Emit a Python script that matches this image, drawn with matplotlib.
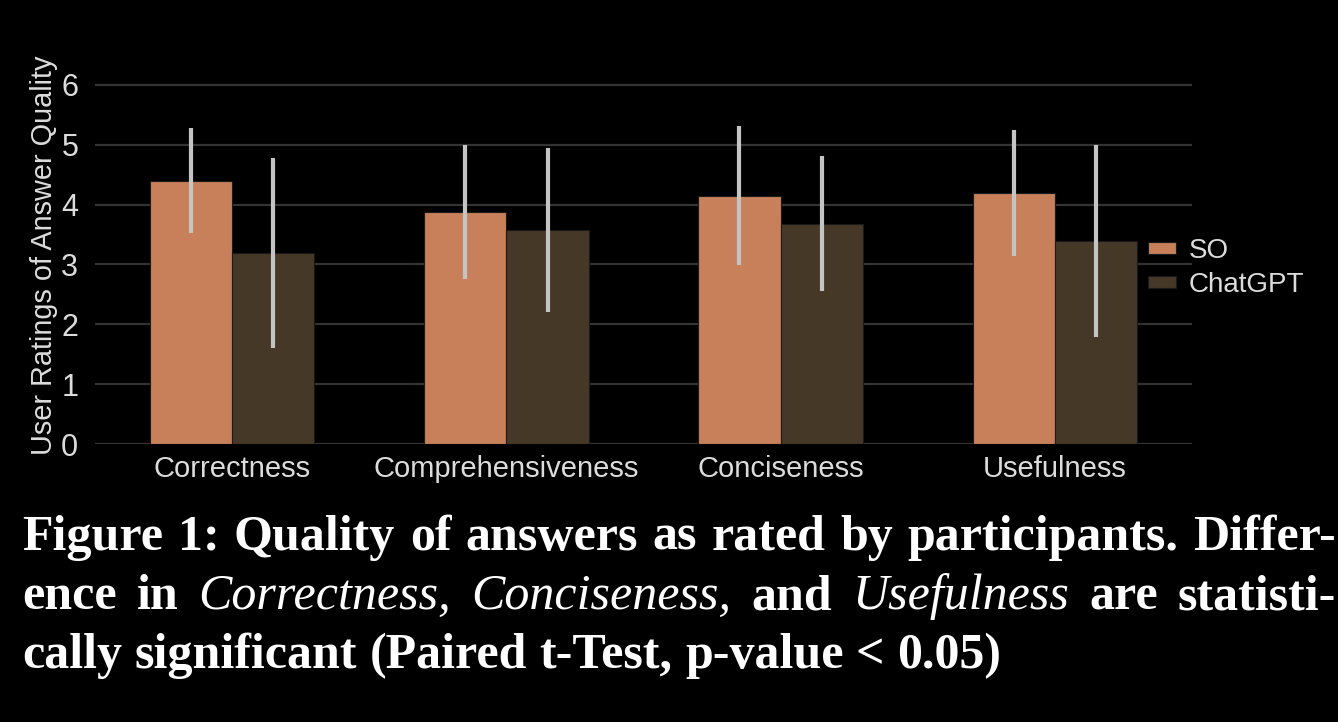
import matplotlib
matplotlib.use("Agg")
import matplotlib.pyplot as plt
import numpy as np

categories = ["Correctness", "Comprehensiveness", "Conciseness", "Usefulness"]
series_names = ["SO", "ChatGPT"]
so_means = [4.40, 3.88, 4.15, 4.20]
so_err = [0.88, 1.12, 1.16, 1.05]
gpt_means = [3.19, 3.58, 3.68, 3.39]
gpt_err = [1.59, 1.37, 1.13, 1.61]
yticks = [0, 1, 2, 3, 4, 5, 6]

caption_lines = [
    [("Figure 1: Quality of answers as rated by participants. Differ-", "b")],
    [("ence in", "b"), ("Correctness, Conciseness,", "i"), ("and", "b"),
     ("Usefulness", "i"), ("are statisti-", "b")],
    [("cally significant (Paired t-Test, p-value < 0.05)", "b")],
]

W, H = 1338, 722
fig = plt.figure(figsize=(W / 100, H / 100), dpi=100, facecolor="black")
ax = fig.add_axes([95 / W, 1 - 444 / H, (1192 - 95) / W, (444 - 67) / H])
ax.set_facecolor("black")

so_col = "#C8805A"
gpt_col = "#463827"
err_col = "#C4C4C4"
txt_col = "#DCDCDC"

x = np.arange(len(categories))
bw = 0.3
ax.bar(x - bw / 2, so_means, bw, color=so_col, edgecolor="#1a1a1a", linewidth=0.8,
       label=series_names[0], zorder=2)
ax.bar(x + bw / 2, gpt_means, bw, color=gpt_col, edgecolor="#1a1a1a", linewidth=0.8,
       label=series_names[1], zorder=2)
ax.errorbar(x - bw / 2, so_means, yerr=so_err, fmt="none", ecolor=err_col,
            elinewidth=3, capsize=0, zorder=3)
ax.errorbar(x + bw / 2, gpt_means, yerr=gpt_err, fmt="none", ecolor=err_col,
            elinewidth=3, capsize=0, zorder=3)

ax.set_xlim(-0.5, 3.5)
ax.set_ylim(0, 6.3)
ax.set_yticks(yticks)
ax.set_xticks(x)
ax.set_xticklabels(categories)
ax.grid(axis="y", color="#333333", linewidth=1.6, zorder=0)
ax.set_axisbelow(True)
for s in ax.spines.values():
    s.set_visible(False)
ax.tick_params(axis="both", length=0, colors=txt_col, labelsize=21,
               labelfontfamily="Liberation Sans")
ax.tick_params(axis="x", pad=8)
ax.tick_params(axis="y", pad=12, labelsize=22)
ax.set_ylabel("User Ratings of Answer Quality", fontsize=20.8, color=txt_col,
              family="Liberation Sans")
ax.yaxis.set_label_coords(-0.034, 0.5)

leg = fig.legend(*ax.get_legend_handles_labels(), loc="center left",
                 bbox_to_anchor=(1140 / W, 1 - 268 / H), frameon=False,
                 prop={"family": "Liberation Sans", "size": 20},
                 handlelength=1.0, handleheight=0.32, handletextpad=0.45,
                 labelspacing=0.3, borderaxespad=0.0, borderpad=0.3)
for t in leg.get_texts():
    t.set_color(txt_col)

# caption
fig.canvas.draw()
renderer = fig.canvas.get_renderer()
fs = 36
left_px, right_px = 22, 1336
baselines = [550, 609, 668]

def style_kw(st):
    if st == "b":
        return dict(family="Liberation Serif", weight="bold", style="normal")
    return dict(family="Liberation Serif", weight="normal", style="italic")

for li, segs in enumerate(caption_lines):
    words = []
    for text, st in segs:
        for w in text.split(" "):
            words.append((w, st))
    widths = []
    for w, st in words:
        t = fig.text(0, 0, w, fontsize=fs, **style_kw(st))
        bb = t.get_window_extent(renderer)
        widths.append(bb.width)
        t.remove()
    sp = fig.text(0, 0, "a a", fontsize=fs, **style_kw("b"))
    sp2 = fig.text(0, 0, "aa", fontsize=fs, **style_kw("b"))
    space_w = sp.get_window_extent(renderer).width - sp2.get_window_extent(renderer).width
    sp.remove(); sp2.remove()
    if li < 2:
        gap = (right_px - left_px - sum(widths)) / (len(words) - 1)
    else:
        gap = space_w
    xp = left_px
    yb = 1 - baselines[li] / H
    for (w, st), wd in zip(words, widths):
        fig.text(xp / W, yb, w, fontsize=fs, color="white", va="baseline",
                 ha="left", **style_kw(st))
        xp += wd + gap

fig.savefig("out.png", dpi=100, facecolor="black")
